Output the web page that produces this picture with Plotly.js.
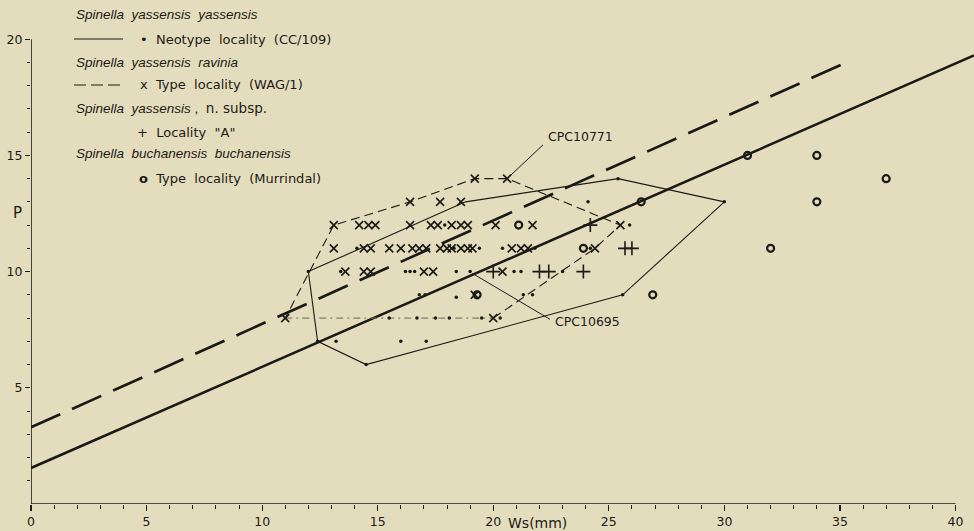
<!DOCTYPE html>
<html>
<head>
<meta charset="utf-8">
<script src="https://cdn.plot.ly/plotly-3.0.1.min.js"></script>
<style>
  html, body { margin: 0; padding: 0; background: #e4ddbd; }
  #chart { width: 974px; height: 531px; }
</style>
</head>
<body>
<div id="chart"></div>
<script>
// ---------------- DATA ----------------
// Spinella yassensis yassensis, Neotype locality (CC/109) - dots
const dotWs = [24.1, 17.9, 25.9, 14.1, 18.3, 19.4, 20.4, 21.8, 24.2,
               13.4, 16.2, 16.4, 16.6, 18.4, 19.0, 20.9, 21.2, 23.0,
               16.8, 17.05, 21.3, 21.7, 18.4,
               15.5, 16.7, 17.5, 18.1, 19.5, 20.3,
               13.2, 16.0, 17.1, 12.4, 14.5, 25.6, 30.0, 25.4, 12.0];
const dotP  = [13, 12, 12, 11, 11, 11, 11, 11, 11,
               10, 10, 10, 10, 10, 10, 10, 10, 10,
               9, 9, 9, 9, 8.9,
               8, 8, 8, 8, 8, 8,
               7, 7, 7, 7, 6, 9, 13, 14, 10];

// Spinella yassensis ravinia, Type locality (WAG/1) - x
const xWs = [19.2, 20.6,
             16.4, 17.7, 18.6,
             13.1, 14.2, 14.6, 14.9, 16.4, 17.3, 17.6, 18.2, 18.6, 18.9, 20.1, 21.7, 25.5,
             13.1, 14.4, 14.7, 15.5, 16.0, 16.5, 16.8, 17.1, 17.7, 18.0, 18.2, 18.6, 18.9, 19.1, 20.8, 21.2, 21.5, 24.4,
             13.6, 14.4, 14.7, 17.0, 17.4, 20.4,
             19.2,
             11.0, 20.0];
const xP  = [14, 14,
             13, 13, 13,
             12, 12, 12, 12, 12, 12, 12, 12, 12, 12, 12, 12, 12,
             11, 11, 11, 11, 11, 11, 11, 11, 11, 11, 11, 11, 11, 11, 11, 11, 11, 11,
             10, 10, 10, 10, 10, 10,
             9,
             8, 8];

// Spinella yassensis n. subsp., Locality "A" - +
const plusWs = [24.2, 25.7, 26.0, 20.0, 22.0, 22.4, 23.9];
const plusP  = [12, 11, 11, 10, 10, 10, 10];

// Spinella buchanensis buchanensis, Type locality (Murrindal) - o
const oWs = [19.3, 21.1, 23.9, 26.4, 26.9, 31, 32, 34, 34, 37];
const oP  = [9, 12, 11, 13, 9, 15, 11, 15, 13, 14];

// Envelopes
const solidHullWs  = [12, 12.4, 14.5, 25.6, 30, 25.4, 18.8, 12];
const solidHullP   = [10, 7, 6, 9, 13, 14, 13, 10];
const dashedHullWs = [20, 24.4, 25.5, 20.6, 19.2, 16.4, 13.1, 11];
const dashedHullP  = [8, 11, 12, 14, 14, 13, 12, 8];
const dashDotWs = [11, 20];
const dashDotP  = [8, 8];

// Regression lines
const solidFitWs  = [0, 40.8];
const solidFitP   = [1.55, 19.3];
const dashedFitWs = [0, 35.1];
const dashedFitP  = [3.3, 18.92];

// Specimen labels
const specLabels = ["CPC10771", "CPC10695"];
const specWs = [20.6, 19.1];
const specP  = [14, 9.92];

// Axis ticks
const xTicks = [0, 5, 10, 15, 20, 25, 30, 35, 40];
const yTicks = [5, 10, 15, 20];

// ---------------- LAYOUT HELPERS ----------------
const L = 31, R = 0, T = 2, B = 27, W = 974, H = 531;
const pw = W - L - R, ph = H - T - B;
const px = x => (x - L) / pw;            // pixel -> paper x
const py = y => (H - B - y) / ph;        // pixel -> paper y

const ink = '#1c1a16';
const bg = '#e4ddbd';
const fontFam = '"Liberation Sans", Arial, sans-serif';
const romanFam = '"DejaVu Sans", "Liberation Sans", sans-serif';

const traces = [
  { x: solidFitWs, y: solidFitP, mode: 'lines', line: { color: ink, width: 2.6 }, hoverinfo: 'skip' },
  { x: dashedFitWs, y: dashedFitP, mode: 'lines', line: { color: ink, width: 2.7, dash: '32px,13px' }, hoverinfo: 'skip' },
  { x: solidHullWs, y: solidHullP, mode: 'lines', line: { color: ink, width: 1.1 }, hoverinfo: 'skip' },
  { x: dashedHullWs, y: dashedHullP, mode: 'lines', line: { color: ink, width: 1.1, dash: '9px,5px' }, hoverinfo: 'skip' },
  { x: dashDotWs, y: dashDotP, mode: 'lines', line: { color: '#6a665a', width: 1, dash: '7px,4px,2px,4px' }, hoverinfo: 'skip' },
  { x: dotWs, y: dotP, mode: 'markers', marker: { symbol: 'circle', size: 3.5, color: ink } },
  { x: xWs, y: xP, mode: 'markers', marker: { symbol: 'x-thin-open', size: 8, color: ink, line: { color: ink, width: 1.6 } } },
  { x: plusWs, y: plusP, mode: 'markers', marker: { symbol: 'cross-thin-open', size: 10, color: ink, line: { color: ink, width: 1.6 } } },
  { x: oWs, y: oP, mode: 'markers', marker: { symbol: 'circle-open', size: 7, color: ink, line: { color: ink, width: 2.2 } } }
];

const legendRows = [
  { y: 15,  x: 74,  fam: fontFam,  size: 13.5, text: '<i>Spinella  yassensis  yassensis</i>' },
  { y: 39,  x: 138, fam: romanFam, size: 13,   text: '•  Neotype  locality  (CC/109)' },
  { y: 62,  x: 74,  fam: fontFam,  size: 13.5, text: '<i>Spinella  yassensis  ravinia</i>' },
  { y: 85,  x: 138, fam: romanFam, size: 13,   text: 'x  Type  locality  (WAG/1)' },
  { y: 108, x: 74,  fam: fontFam,  size: 13.5, text: '<i>Spinella  yassensis</i> ,  <span style="font-family:DejaVu Sans">n. subsp.</span>' },
  { y: 132, x: 135, fam: romanFam, size: 13,   text: '+  Locality  "A"' },
  { y: 154, x: 74,  fam: fontFam,  size: 13.5, text: '<i>Spinella  buchanensis  buchanensis</i>' },
  { y: 178, x: 137, fam: romanFam, size: 13,   text: '<b>o</b>  Type  locality  (Murrindal)' }
];

const annotations = legendRows.map(r => ({
  xref: 'paper', yref: 'paper', x: px(r.x), y: py(r.y), xanchor: 'left', yanchor: 'middle',
  text: r.text, showarrow: false, font: { family: r.fam, size: r.size, color: ink }
}));

annotations.push({ xref: 'paper', yref: 'y', x: px(17), y: 12.5, text: 'P', showarrow: false,
  xanchor: 'center', yanchor: 'middle', font: { family: romanFam, size: 15, color: ink } });
annotations.push({ xref: 'x', yref: 'paper', x: 21.9, y: py(523), text: 'Ws(mm)', showarrow: false,
  xanchor: 'center', yanchor: 'middle', font: { family: romanFam, size: 14, color: ink } });

// specimen labels with leader lines
const specText = [[22.3, 15.8], [22.6, 7.87]];
specLabels.forEach((t, i) => {
  annotations.push({ xref: 'x', yref: 'y', x: specText[i][0], y: specText[i][1], text: t,
    xanchor: 'left', yanchor: 'middle', showarrow: false,
    font: { family: romanFam, size: 12.5, color: ink } });
});

const shapes = [
  // axis lines
  { type: 'line', xref: 'x', yref: 'y', x0: 0, y0: 0, x1: 40, y1: 0, line: { color: ink, width: 1.6 } },
  { type: 'line', xref: 'x', yref: 'y', x0: 0, y0: 0, x1: 0, y1: 20, line: { color: ink, width: 1.6 } },
  // legend line samples
  { type: 'line', xref: 'paper', yref: 'paper', x0: px(74), y0: py(39), x1: px(123), y1: py(39), line: { color: ink, width: 1.2 } },
  { type: 'line', xref: 'paper', yref: 'paper', x0: px(74), y0: py(85), x1: px(123), y1: py(85), line: { color: ink, width: 1.2, dash: '12px,5px' } },
  // leader lines
  { type: 'line', xref: 'x', yref: 'y', x0: 22.15, y0: 15.45, x1: specWs[0], y1: specP[0], line: { color: ink, width: 1 } },
  { type: 'line', xref: 'x', yref: 'y', x0: 22.45, y0: 7.95, x1: specWs[1], y1: specP[1], line: { color: ink, width: 1 } }
];

const layout = {
  width: W, height: H,
  margin: { l: L, r: R, t: T, b: B, pad: 0 },
  paper_bgcolor: bg, plot_bgcolor: bg,
  showlegend: false,
  font: { family: romanFam, color: ink },
  xaxis: {
    range: [0, 40.8], showgrid: false, zeroline: false, showline: false,
    tickmode: 'array', tickvals: xTicks, ticktext: xTicks.map(String),
    ticks: 'outside', ticklen: 6, tickwidth: 1.2, tickcolor: ink,
    tickfont: { family: romanFam, size: 12.5, color: ink },
    minor: { tickmode: 'linear', tick0: 0, dtick: 1, ticks: 'outside', ticklen: 4, tickwidth: 1, tickcolor: ink },
    fixedrange: true
  },
  yaxis: {
    range: [0, 21.6], showgrid: false, zeroline: false, showline: false,
    tickmode: 'array', tickvals: yTicks, ticktext: yTicks.map(String),
    ticks: 'outside', ticklen: 5, tickwidth: 1.2, tickcolor: ink,
    tickfont: { family: romanFam, size: 12.5, color: ink },
    minor: { tickmode: 'array', tickvals: [1,2,3,4,6,7,8,9,11,12,13,14,16,17,18,19], ticks: 'outside', ticklen: 3, tickwidth: 1, tickcolor: ink },
    fixedrange: true
  },
  annotations: annotations,
  shapes: shapes
};

Plotly.newPlot('chart', traces, layout, { displayModeBar: false, staticPlot: true });
</script>
</body>
</html>
